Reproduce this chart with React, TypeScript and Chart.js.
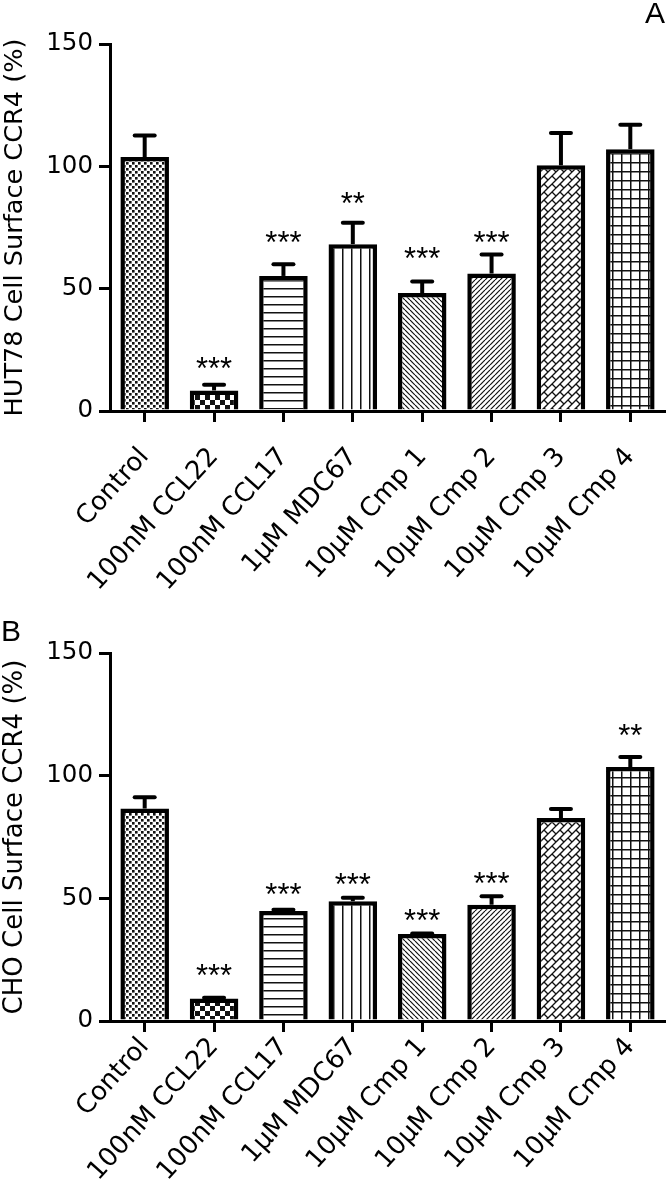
import React, { useEffect, useRef } from "react";
import { Chart, registerables } from "chart.js";

Chart.register(...registerables);

// ---------- data ----------
const categories = [
  "Control",
  "100nM CCL22",
  "100nM CCL17",
  "1µM MDC67",
  "10µM Cmp 1",
  "10µM Cmp 2",
  "10µM Cmp 3",
  "10µM Cmp 4",
];
const yAxisStep = 50;
const yAxisMax = 150;

const hutMeans = [103.8, 8.4, 55.2, 68.2, 48.2, 56.2, 100.4, 107.0];
const hutErrors = [8.8, 2.3, 4.8, 8.7, 4.7, 7.8, 13.2, 10.0];
const hutStars = [null, "***", "***", "**", "***", "***", null, null];
const hutStarY = [0, 19.6, 71.1, 87.0, 64.6, 71.1, 0, 0];

const choMeans = [86.6, 9.2, 44.8, 48.8, 35.5, 47.4, 82.7, 103.5];
const choErrors = [4.6, 0.3, 0.5, 1.4, 0.2, 3.4, 3.7, 4.1];
const choStars = [null, "***", "***", "***", "***", "***", null, "**"];
const choStarY = [0, 20.8, 53.8, 57.9, 43.2, 58.3, 0, 118.6];

const patternKinds = ["dots", "checker", "hlines", "vlines", "back", "fwd", "brick", "grid"];

const FONT = "'DejaVu Sans', Verdana, sans-serif";
const STAR_FONT = "'Liberation Sans', Arial, sans-serif";

// ---------- patterns ----------
function makePattern(kind: string, ctxRef: CanvasRenderingContext2D): CanvasPattern | string {
  const sizes: Record<string, [number, number]> = {
    dots: [6, 6],
    checker: [10, 10],
    hlines: [8, 8],
    vlines: [9, 9],
    back: [5, 5],
    fwd: [5, 5],
    brick: [16, 16],
    grid: [9, 9],
  };
  const [w, h] = sizes[kind];
  const c = document.createElement("canvas");
  c.width = w;
  c.height = h;
  const g = c.getContext("2d")!;
  g.fillStyle = "#fff";
  g.fillRect(0, 0, w, h);
  g.fillStyle = "#111";
  g.strokeStyle = "#111";
  if (kind === "dots") {
    g.fillRect(0, 0, 2.6, 2.6);
    g.fillRect(3, 3, 2.6, 2.6);
  } else if (kind === "checker") {
    g.fillRect(0, 0, 5, 5);
    g.fillRect(5, 5, 5, 5);
  } else if (kind === "hlines") {
    g.fillRect(0, 0, w, 1.5);
  } else if (kind === "vlines") {
    g.fillRect(0, 0, 1.5, h);
  } else if (kind === "grid") {
    g.fillRect(0, 0, w, 1.5);
    g.fillRect(0, 0, 1.5, h);
  } else if (kind === "back" || kind === "fwd") {
    g.lineWidth = 1.2;
    for (const d of [-w, 0, w]) {
      g.beginPath();
      if (kind === "back") {
        g.moveTo(d, 0);
        g.lineTo(d + w, h);
      } else {
        g.moveTo(d, h);
        g.lineTo(d + w, 0);
      }
      g.stroke();
    }
  } else if (kind === "brick") {
    const T = w;
    const s = T / 2;
    g.lineWidth = 1.3;
    for (let c0 = -2 * T; c0 <= 4 * T; c0 += s) {
      g.beginPath();
      g.moveTo(c0 + 40, -40);
      g.lineTo(c0 - 40, 40);
      g.stroke();
    }
    for (let k = -4; k <= 8; k++) {
      const base = ((s * k) % T + T) % T;
      for (let d = base - 3 * T; d <= 3 * T; d += T) {
        const s0 = s * k;
        const s1 = s * (k + 1);
        g.beginPath();
        g.moveTo((s0 + d) / 2, (s0 - d) / 2);
        g.lineTo((s1 + d) / 2, (s1 - d) / 2);
        g.stroke();
      }
    }
  }
  return ctxRef.createPattern(c, "repeat") || "#fff";
}

// ---------- error bar + significance plugin ----------
function makeErrorPlugin(errors: number[], stars: (string | null)[], starY: number[]) {
  return {
    id: "errorBarsAndStars",
    afterDatasetsDraw(chart: any) {
      const ctx: CanvasRenderingContext2D = chart.ctx;
      const meta = chart.getDatasetMeta(0);
      const yScale = chart.scales.y;
      const values = chart.data.datasets[0].data as number[];
      ctx.save();
      ctx.strokeStyle = "#000";
      ctx.lineWidth = 4;
      meta.data.forEach((bar: any, i: number) => {
        const base = yScale.getPixelForValue(values[i]);
        const top = yScale.getPixelForValue(values[i] + errors[i]);
        ctx.lineCap = "butt";
        ctx.beginPath();
        ctx.moveTo(bar.x, base);
        ctx.lineTo(bar.x, top);
        ctx.stroke();
        ctx.lineCap = "round";
        ctx.beginPath();
        ctx.moveTo(bar.x - 10, top);
        ctx.lineTo(bar.x + 10, top);
        ctx.stroke();
        const label = stars[i];
        if (label) {
          ctx.font = `31px ${STAR_FONT}`;
          ctx.fillStyle = "#000";
          ctx.textAlign = "center";
          ctx.textBaseline = "alphabetic";
          const m = ctx.measureText(label);
          const cy = yScale.getPixelForValue(starY[i]);
          const off = (m.actualBoundingBoxAscent - m.actualBoundingBoxDescent) / 2;
          ctx.fillText(label, bar.x, cy + off);
        }
      });
      ctx.restore();
    },
  };
}

type PanelProps = {
  means: number[];
  errors: number[];
  stars: (string | null)[];
  starY: number[];
  title: string;
  titleSize: number;
  top: number;
  height: number;
  padTop: number;
  xHeight: number;
  labelPad: number;
};

function Panel({ means, errors, stars, starY, title, titleSize, top, height, padTop, xHeight, labelPad }: PanelProps) {
  const ref = useRef<HTMLCanvasElement>(null);
  useEffect(() => {
    const canvas = ref.current!;
    const ctx = canvas.getContext("2d")!;
    const patterns = patternKinds.map((k) => makePattern(k, ctx));
    const axisGrid = {
      drawOnChartArea: false,
      drawTicks: true,
      tickLength: 11,
      lineWidth: 3,
      color: "#000",
    };
    const chart = new Chart(canvas, {
      type: "bar",
      data: {
        labels: categories,
        datasets: [
          {
            data: means,
            backgroundColor: patterns as any,
            borderColor: "#000",
            borderWidth: 4.5,
            barPercentage: 0.7,
            categoryPercentage: 1,
          },
        ],
      },
      options: {
        responsive: false,
        animation: false,
        events: [],
        layout: { padding: { top: padTop, right: 1, left: 0, bottom: 0 } },
        plugins: {
          legend: { display: false },
          tooltip: { enabled: false },
          title: { display: false },
        },
        scales: {
          x: {
            offset: true,
            grid: { ...axisGrid, offset: false },
            border: { display: true, width: 3, color: "#000" },
            ticks: {
              autoSkip: false,
              minRotation: 48,
              maxRotation: 48,
              color: "#000",
              padding: labelPad,
              font: { family: FONT, size: 26 },
            },
            afterFit: (s: any) => {
              s.height = xHeight;
              s.paddingLeft = 0;
              s.paddingRight = 0;
            },
          },
          y: {
            min: 0,
            max: yAxisMax,
            grid: axisGrid,
            border: { display: true, width: 3, color: "#000" },
            ticks: {
              stepSize: yAxisStep,
              color: "#000",
              padding: 6,
              font: { family: FONT, size: 24.5 },
            },
            title: {
              display: true,
              text: title,
              color: "#000",
              padding: 0,
              font: { family: FONT, size: titleSize },
            },
            afterFit: (s: any) => {
              s.width = 110;
            },
          },
        },
      },
      plugins: [makeErrorPlugin(errors, stars, starY)],
    });
    return () => chart.destroy();
  }, []);
  return (
    <canvas
      ref={ref}
      width={666}
      height={height}
      style={{ position: "absolute", left: 0, top, width: 666, height, display: "block" }}
    />
  );
}

export default function App() {
  return (
    <div
      style={{
        position: "absolute",
        left: 0,
        top: 0,
        width: 666,
        height: 1182,
        background: "#fff",
        overflow: "hidden",
      }}
    >
      <Panel
        means={hutMeans}
        errors={hutErrors}
        stars={hutStars}
        starY={hutStarY}
        title="HUT78 Cell Surface CCR4 (%)"
        titleSize={25.6}
        top={0}
        height={606}
        padTop={44}
        xHeight={195}
        labelPad={20}
      />
      <Panel
        means={choMeans}
        errors={choErrors}
        stars={choStars}
        starY={choStarY}
        title="CHO Cell Surface CCR4 (%)"
        titleSize={26}
        top={606}
        height={576}
        padTop={47}
        xHeight={161}
        labelPad={0}
      />
      <div
        style={{
          position: "absolute",
          right: 1,
          top: -2,
          fontFamily: STAR_FONT,
          fontSize: 30,
          lineHeight: "30px",
          color: "#000",
        }}
      >
        A
      </div>
      <div
        style={{
          position: "absolute",
          left: 1,
          top: 616,
          fontFamily: STAR_FONT,
          fontSize: 30,
          lineHeight: "30px",
          color: "#000",
        }}
      >
        B
      </div>
    </div>
  );
}
